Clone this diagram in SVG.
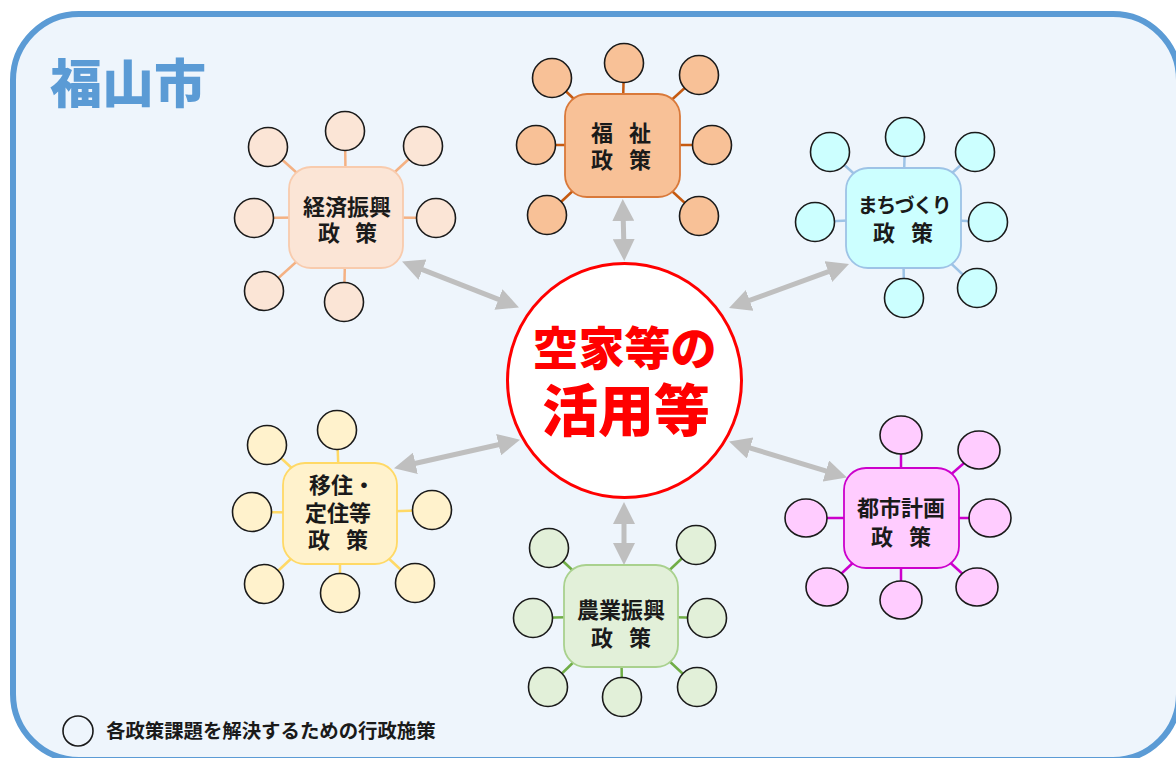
<svg xmlns="http://www.w3.org/2000/svg" width="1176" height="758" viewBox="0 0 1176 758">
<defs>
<style>
.t{font-family:"Noto Sans CJK JP","Noto Sans",sans-serif;font-weight:bold;text-anchor:middle;fill:#1a1a1a;font-size:22px}
.sat{stroke:#1a1a1a;stroke-width:1.6}
.arr{stroke:#BFBFBF;stroke-width:5;fill:none;marker-start:url(#ah);marker-end:url(#ah)}
.box{stroke-width:1.8}
.sp{stroke-width:2.5}
</style>
<marker id="ah" viewBox="0 0 10 10" refX="5" refY="5" markerWidth="4.4" markerHeight="4.4" orient="auto-start-reverse" markerUnits="strokeWidth">
<path d="M0,0 L10,5 L0,10 z" fill="#BFBFBF"/>
</marker>
</defs>
<rect width="1176" height="758" fill="#ffffff"/>
<rect id="frame" x="13" y="14" width="1166" height="746" rx="66" ry="66" fill="#EEF5FC" stroke="#5B9BD5" stroke-width="6"/>
<text x="50" y="103" style="font-family:'Noto Sans CJK JP','Noto Sans',sans-serif;font-weight:900;font-size:52px;fill:#5B9BD5">福山市</text>

<g id="connectors">
<line class="arr" x1="412.3" y1="265.6" x2="508.7" y2="303.4"/>
<line class="arr" x1="623" y1="210" x2="624" y2="250"/>
<line class="arr" x1="739.3" y1="304.2" x2="838.7" y2="267.8"/>
<line class="arr" x1="404.7" y1="465.8" x2="509.3" y2="442.2"/>
<line class="arr" x1="624" y1="513" x2="624" y2="554"/>
<line class="arr" x1="739.6" y1="444.8" x2="836.4" y2="474.2"/>
</g>

<g id="center">
<circle cx="624.5" cy="380.5" r="117" fill="#ffffff" stroke="#FF0000" stroke-width="3"/>
<text x="624.5" y="365" style="font-family:'Noto Sans CJK JP','Noto Sans',sans-serif;font-weight:900;font-size:46px;fill:#FF0000;text-anchor:middle">空家等の</text>
<text x="626" y="431" style="font-family:'Noto Sans CJK JP','Noto Sans',sans-serif;font-weight:900;font-size:56px;fill:#FF0000;text-anchor:middle">活用等</text>
</g>

<g id="keizai">
<g stroke="#F4B183" class="sp">
<line x1="346" y1="217" x2="268" y2="147"/><line x1="346" y1="217" x2="345" y2="131"/><line x1="346" y1="217" x2="423" y2="146"/>
<line x1="346" y1="217" x2="254" y2="218"/><line x1="346" y1="217" x2="436" y2="218"/><line x1="346" y1="217" x2="264" y2="291"/><line x1="346" y1="217" x2="344" y2="302"/>
</g>
<rect class="box" x="289" y="167" width="114" height="101" rx="22" fill="#FBE5D6" stroke="#F8CBAD"/>
<g fill="#FBE5D6" class="sat">
<circle cx="268" cy="147" r="19.5"/><circle cx="345" cy="131" r="19.5"/><circle cx="423" cy="146" r="19.5"/>
<circle cx="254" cy="218" r="19.5"/><circle cx="436" cy="218" r="19.5"/><circle cx="264" cy="291" r="19.5"/><circle cx="344" cy="302" r="19.5"/>
</g>
<text class="t" x="347" y="215">経済振興</text>
<text class="t" y="241"><tspan x="329">政</tspan><tspan x="366">策</tspan></text>
</g>

<g id="fukushi">
<g stroke="#C55A11" class="sp">
<line x1="622" y1="145" x2="552" y2="78"/><line x1="622" y1="145" x2="624" y2="63"/><line x1="622" y1="145" x2="699" y2="75"/>
<line x1="622" y1="145" x2="536" y2="145"/><line x1="622" y1="145" x2="712" y2="145"/><line x1="622" y1="145" x2="547" y2="215"/><line x1="622" y1="145" x2="699" y2="216"/>
</g>
<rect class="box" x="565" y="94" width="115" height="103" rx="22" fill="#F8C197" stroke="#D9793A"/>
<g fill="#F8C197" class="sat">
<circle cx="552" cy="78" r="19.5"/><circle cx="624" cy="63" r="19.5"/><circle cx="699" cy="75" r="19.5"/>
<circle cx="536" cy="145" r="19.5"/><circle cx="712" cy="145" r="19.5"/><circle cx="547" cy="215" r="19.5"/><circle cx="699" cy="216" r="19.5"/>
</g>
<text class="t" y="141"><tspan x="602">福</tspan><tspan x="640">祉</tspan></text>
<text class="t" y="168"><tspan x="602">政</tspan><tspan x="640">策</tspan></text>
</g>

<g id="machizukuri">
<g stroke="#9DC3E6" class="sp">
<line x1="903" y1="218" x2="830" y2="152"/><line x1="903" y1="218" x2="905" y2="137"/><line x1="903" y1="218" x2="975" y2="152"/>
<line x1="903" y1="218" x2="815" y2="222"/><line x1="903" y1="218" x2="988" y2="222"/><line x1="903" y1="218" x2="904" y2="298"/><line x1="903" y1="218" x2="977" y2="288"/>
</g>
<rect class="box" x="846" y="168" width="115" height="100" rx="22" fill="#CCFFFF" stroke="#9DC3E6"/>
<g fill="#CCFFFF" class="sat">
<circle cx="830" cy="152" r="19.5"/><circle cx="905" cy="137" r="19.5"/><circle cx="975" cy="152" r="19.5"/>
<circle cx="815" cy="222" r="19.5"/><circle cx="988" cy="222" r="19.5"/><circle cx="904" cy="298" r="19.5"/><circle cx="977" cy="288" r="19.5"/>
</g>
<text class="t" x="904" y="213" style="font-size:20px;letter-spacing:-1.5px">まちづくり</text>
<text class="t" y="241"><tspan x="884">政</tspan><tspan x="922">策</tspan></text>
</g>

<g id="iju">
<g stroke="#FFD966" class="sp">
<line x1="340" y1="513" x2="267" y2="445"/><line x1="340" y1="513" x2="337" y2="430"/><line x1="340" y1="513" x2="252" y2="512"/>
<line x1="340" y1="513" x2="432" y2="510"/><line x1="340" y1="513" x2="264" y2="584"/><line x1="340" y1="513" x2="340" y2="593"/><line x1="340" y1="513" x2="415" y2="583"/>
</g>
<rect class="box" x="283" y="463" width="114" height="101" rx="22" fill="#FFF2CC" stroke="#FFD966"/>
<g fill="#FFF2CC" class="sat">
<circle cx="267" cy="445" r="19.5"/><circle cx="337" cy="430" r="19.5"/><circle cx="252" cy="512" r="19.5"/>
<circle cx="432" cy="510" r="19.5"/><circle cx="264" cy="584" r="19.5"/><circle cx="340" cy="593" r="19.5"/><circle cx="415" cy="583" r="19.5"/>
</g>
<text class="t" x="342" y="493">移住・</text>
<text class="t" x="338" y="521">定住等</text>
<text class="t" y="548"><tspan x="319">政</tspan><tspan x="357">策</tspan></text>
</g>

<g id="nogyo">
<g stroke="#70AD47" class="sp">
<line x1="621" y1="616" x2="549" y2="548"/><line x1="621" y1="616" x2="696" y2="545"/><line x1="621" y1="616" x2="533" y2="618"/>
<line x1="621" y1="616" x2="707" y2="618"/><line x1="621" y1="616" x2="548" y2="687"/><line x1="621" y1="616" x2="622" y2="697"/><line x1="621" y1="616" x2="697" y2="687"/>
</g>
<rect class="box" x="564" y="565" width="114" height="102" rx="22" fill="#E2F0D9" stroke="#A9D18E"/>
<g fill="#E2F0D9" class="sat">
<circle cx="549" cy="548" r="19.5"/><circle cx="696" cy="545" r="19.5"/><circle cx="533" cy="618" r="19.5"/>
<circle cx="707" cy="618" r="19.5"/><circle cx="548" cy="687" r="19.5"/><circle cx="622" cy="697" r="19.5"/><circle cx="697" cy="687" r="19.5"/>
</g>
<text class="t" x="621" y="618">農業振興</text>
<text class="t" y="646"><tspan x="602">政</tspan><tspan x="640">策</tspan></text>
</g>

<g id="toshi">
<g stroke="#CC00CC" class="sp">
<line x1="901" y1="518" x2="901" y2="435"/><line x1="901" y1="518" x2="979" y2="450"/><line x1="901" y1="518" x2="806" y2="518"/>
<line x1="901" y1="518" x2="990" y2="518"/><line x1="901" y1="518" x2="827" y2="587"/><line x1="901" y1="518" x2="901" y2="600"/><line x1="901" y1="518" x2="977" y2="587"/>
</g>
<rect class="box" x="844" y="468" width="115" height="100" rx="22" fill="#FFCCFF" stroke="#CC00CC"/>
<g fill="#FFCCFF" class="sat">
<ellipse cx="901" cy="435" rx="21" ry="19"/><ellipse cx="979" cy="450" rx="21" ry="19"/><ellipse cx="806" cy="518" rx="21" ry="19"/>
<ellipse cx="990" cy="518" rx="21" ry="19"/><ellipse cx="827" cy="587" rx="21" ry="19"/><ellipse cx="901" cy="600" rx="21" ry="19"/><ellipse cx="977" cy="587" rx="21" ry="19"/>
</g>
<text class="t" x="901" y="516">都市計画</text>
<text class="t" y="545"><tspan x="882">政</tspan><tspan x="920">策</tspan></text>
</g>

<g id="legend">
<circle cx="78" cy="731" r="15" fill="none" stroke="#1a1a1a" stroke-width="1.6"/>
<text x="106" y="738" style="font-family:'Noto Sans CJK JP','Noto Sans',sans-serif;font-weight:bold;font-size:19.4px;fill:#1a1a1a">各政策課題を解決するための行政施策</text>
</g>
</svg>
